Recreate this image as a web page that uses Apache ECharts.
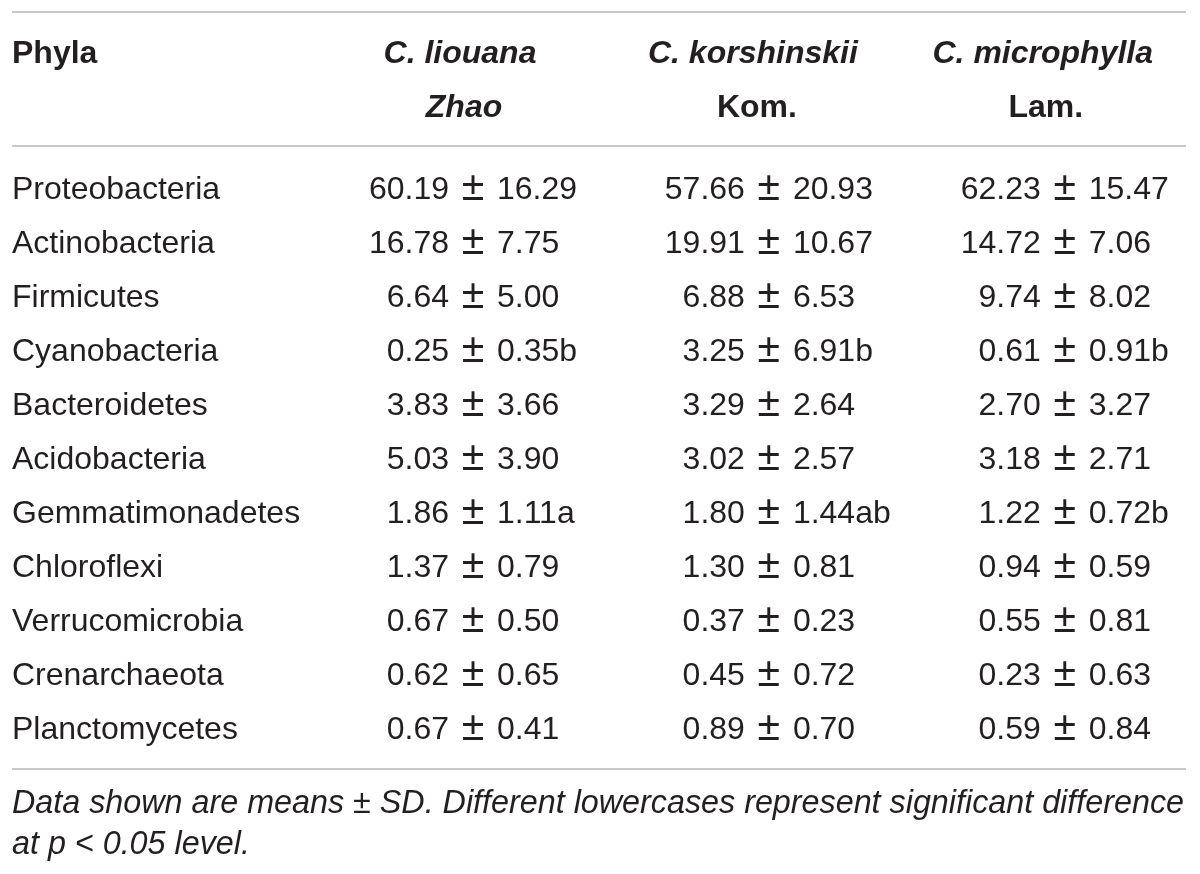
<!DOCTYPE html>
<html>
<head>
<meta charset="utf-8">
<script src="https://cdn.jsdelivr.net/npm/echarts@6/dist/echarts.min.js"></script>
<style>
  html, body { margin: 0; padding: 0; background: #fff; }
  #chart { width: 1200px; height: 874px; }
</style>
</head>
<body>
<div id="chart"></div>
<script>
// table data
const phyla = ['Proteobacteria', 'Actinobacteria', 'Firmicutes', 'Cyanobacteria', 'Bacteroidetes',
  'Acidobacteria', 'Gemmatimonadetes', 'Chloroflexi', 'Verrucomicrobia', 'Crenarchaeota', 'Planctomycetes'];
const species = ['C. liouana', 'C. korshinskii', 'C. microphylla'];
const authorities = ['Zhao', 'Kom.', 'Lam.'];

const liouanaMean = [60.19, 16.78, 6.64, 0.25, 3.83, 5.03, 1.86, 1.37, 0.67, 0.62, 0.67];
const liouanaSD = [16.29, 7.75, 5.00, 0.35, 3.66, 3.90, 1.11, 0.79, 0.50, 0.65, 0.41];
const liouanaTag = ['', '', '', 'b', '', '', 'a', '', '', '', ''];

const korshinskiiMean = [57.66, 19.91, 6.88, 3.25, 3.29, 3.02, 1.80, 1.30, 0.37, 0.45, 0.89];
const korshinskiiSD = [20.93, 10.67, 6.53, 6.91, 2.64, 2.57, 1.44, 0.81, 0.23, 0.72, 0.70];
const korshinskiiTag = ['', '', '', 'b', '', '', 'ab', '', '', '', ''];

const microphyllaMean = [62.23, 14.72, 9.74, 0.61, 2.70, 3.18, 1.22, 0.94, 0.55, 0.23, 0.59];
const microphyllaSD = [15.47, 7.06, 8.02, 0.91, 3.27, 2.71, 0.72, 0.59, 0.81, 0.63, 0.84];
const microphyllaTag = ['', '', '', 'b', '', '', 'b', '', '', '', ''];

const footnote = ['Data shown are means \u00b1 SD. Different lowercases represent significant difference',
  'at p < 0.05 level.'];

const FONT = '"Liberation Sans", Arial, Helvetica, sans-serif';
const INK = '#231f20';
const RULE = '#c8c8c8';
const FS = 32;
const PM_GAP = 24; // distance from the ± centre to the numbers either side

// columns line up on the ± sign: mean right of it, sd left
function cellRenderer(tags) {
  return function (params, api) {
    const pt = api.coord([api.value(0), api.value(1)]);
    const row = api.value(1);
    const base = { fontFamily: FONT, fontSize: FS, fill: INK, verticalAlign: 'middle', y: pt[1] };
    return {
      type: 'group',
      children: [
        { type: 'text', style: Object.assign({}, base, { text: api.value(2).toFixed(2), x: pt[0] - PM_GAP, align: 'right' }) },
        { type: 'text', style: Object.assign({}, base, { text: '\u00b1', fontSize: 41, x: pt[0], y: pt[1] - 1, align: 'center' }) },
        { type: 'text', style: Object.assign({}, base, { text: api.value(3).toFixed(2) + tags[row], x: pt[0] + PM_GAP, align: 'left' }) }
      ]
    };
  };
}

function cells(col, means, sds) {
  return phyla.map((p, i) => [col, i, means[i], sds[i]]);
}

// header nudges (px) — species line and authority line sit a little left of the ± column
const speciesShift = [-13, -16, -22];
const authorShift = [-9, -12, -19];
function shiftPad(d) {
  return d >= 0 ? [0, 0, 0, d * 2] : [0, -d * 2, 0, 0];
}
const headerRich = {};
species.forEach((s, i) => {
  headerRich['s' + i] = { fontFamily: FONT, fontSize: FS, fontWeight: 'bold', fontStyle: 'italic', color: INK, lineHeight: 54, padding: shiftPad(speciesShift[i]) };
  headerRich['a' + i] = { fontFamily: FONT, fontSize: FS, fontWeight: 'bold', fontStyle: i === 0 ? 'italic' : 'normal', color: INK, lineHeight: 54, padding: shiftPad(authorShift[i]) };
});

const chart = echarts.init(document.getElementById('chart'), null, { renderer: 'canvas' });
chart.setOption({
  animation: false,
  backgroundColor: '#fff',
  grid: { left: 473, right: 131, top: 163, bottom: 117 },
  xAxis: {
    type: 'category',
    data: species,
    position: 'top',
    boundaryGap: false,
    axisLine: { show: false },
    axisTick: { show: false },
    splitLine: { show: false },
    axisLabel: {
      interval: 0,
      showMinLabel: true,
      showMaxLabel: true,
      margin: 28,
      formatter: (v, i) => '{s' + i + '|' + v + '}\n{a' + i + '|' + authorities[i] + '}',
      rich: headerRich
    }
  },
  yAxis: {
    type: 'category',
    data: phyla,
    inverse: true,
    axisLine: { show: false },
    axisTick: { show: false },
    splitLine: { show: false },
    axisLabel: {
      interval: 0,
      align: 'left',
      margin: 461,
      fontFamily: FONT,
      fontSize: FS,
      color: INK
    }
  },
  graphic: [
    { type: 'line', shape: { x1: 12, y1: 12, x2: 1186, y2: 12 }, style: { stroke: RULE, lineWidth: 2 } },
    { type: 'line', shape: { x1: 12, y1: 146, x2: 1186, y2: 146 }, style: { stroke: RULE, lineWidth: 2 } },
    { type: 'line', shape: { x1: 12, y1: 769, x2: 1186, y2: 769 }, style: { stroke: RULE, lineWidth: 2 } },
    { type: 'text', left: 12, top: 38, style: { text: 'Phyla', fontFamily: FONT, fontSize: FS, fontWeight: 'bold', fill: INK } },
    { type: 'text', left: 12, top: 788, style: { text: footnote[0], fontFamily: FONT, fontSize: 32.3, fontStyle: 'italic', fill: INK } },
    { type: 'text', left: 12, top: 829, style: { text: footnote[1], fontFamily: FONT, fontSize: 32.3, fontStyle: 'italic', fill: INK } }
  ],
  series: [
    { type: 'custom', renderItem: cellRenderer(liouanaTag), data: cells(0, liouanaMean, liouanaSD) },
    { type: 'custom', renderItem: cellRenderer(korshinskiiTag), data: cells(1, korshinskiiMean, korshinskiiSD) },
    { type: 'custom', renderItem: cellRenderer(microphyllaTag), data: cells(2, microphyllaMean, microphyllaSD) }
  ]
});
</script>
</body>
</html>
